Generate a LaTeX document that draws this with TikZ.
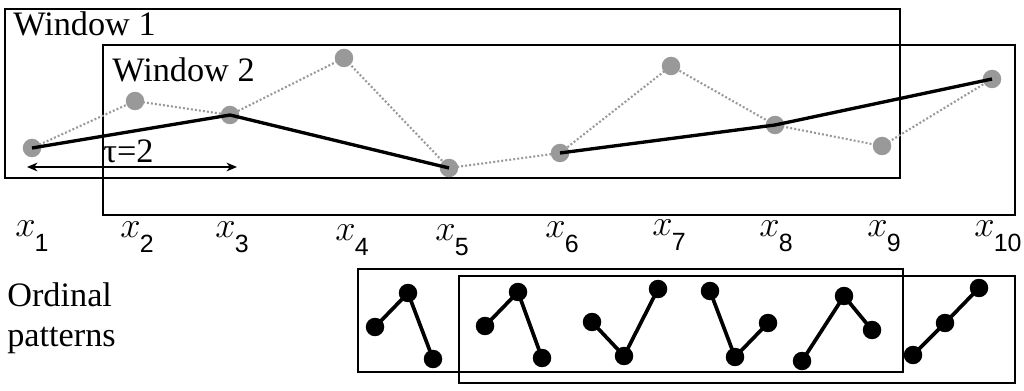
\documentclass[tikz,border=0pt]{standalone}
\usepackage{fontspec}
\setmainfont{Liberation Serif}
\newfontfamily\subsf{Liberation Sans}
\usetikzlibrary{arrows.meta}
\definecolor{ptgray}{RGB}{153,153,153}
\tikzset{
  gdot/.style={circle, fill=ptgray, inner sep=0pt, minimum size=0.37cm},
  bdot/.style={circle, fill=black, inner sep=0pt, minimum size=0.37cm},
  dotline/.style={ptgray, line width=1.2pt, dash pattern=on 1.1pt off 1.2pt},
  blackline/.style={black, line width=1.9pt},
  patline/.style={black, line width=2.1pt},
  winbox/.style={black, line width=1.1pt},
  bigtext/.style={font=\fontsize{19.5}{22.8}\selectfont, inner sep=0pt, anchor=base west},
  xlab/.style={font=\fontsize{20.5}{24}\selectfont, inner sep=0pt, anchor=base west},
  tauarrow/.style={line width=0.85pt, {Stealth[length=6pt,width=5pt]}-{Stealth[length=6pt,width=5pt]}}
}
\newcommand{\xlabel}[1]{$x$\kern-0.5pt\raisebox{-8.5pt}{\fontsize{14.2}{16}\subsf #1}}
\begin{document}
\begin{tikzpicture}[x=0.02cm,y=-0.02cm]
\useasboundingbox (0,0) rectangle (1024,391);
% windows
\draw[winbox] (5,9) rectangle (900,178);
\draw[winbox] (103,45) rectangle (1015,215);
\node[bigtext] (w1) at (13,36) {Window 1};
\node[bigtext] (w2) at (112,82) {Window 2};
% points
\coordinate (p1) at (32,148);
\coordinate (p2) at (135,101);
\coordinate (p3) at (230,115);
\coordinate (p4) at (344,58);
\coordinate (p5) at (449,168);
\coordinate (p6) at (560,153);
\coordinate (p7) at (671,66);
\coordinate (p8) at (775,125);
\coordinate (p9) at (882,146);
\coordinate (p10) at (992,79);
\draw[dotline] (p1) -- (p2) -- (p3) -- (p4) -- (p5) -- (p6) -- (p7) -- (p8) -- (p9) -- (p10);
\node[gdot] (g1) at (p1) {};
\node[gdot] (g2) at (p2) {};
\node[gdot] (g3) at (p3) {};
\node[gdot] (g4) at (p4) {};
\node[gdot] (g5) at (p5) {};
\node[gdot] (g6) at (p6) {};
\node[gdot] (g7) at (p7) {};
\node[gdot] (g8) at (p8) {};
\node[gdot] (g9) at (p9) {};
\node[gdot] (g10) at (p10) {};
\draw[blackline, line join=round] (g1.center) -- (g3.center) -- (g5.center);
\draw[blackline, line join=round] (g6.center) -- (g8.center) -- (g10.center);
% tau arrow
\coordinate (a1) at (27,167);
\coordinate (a2) at (237,167);
\draw[tauarrow] (a1) -- (a2);
\node[bigtext] (tau) at (103,163) {τ=2};
% x labels
\node[xlab] (l1) at (15,237) {\xlabel{1}};
\node[xlab] (l2) at (120,238) {\xlabel{2}};
\node[xlab] (l3) at (215,238) {\xlabel{3}};
\node[xlab] (l4) at (335,241) {\xlabel{4}};
\node[xlab] (l5) at (435,241) {\xlabel{5}};
\node[xlab] (l6) at (545,238) {\xlabel{6}};
\node[xlab] (l7) at (652,236) {\xlabel{7}};
\node[xlab] (l8) at (759,237) {\xlabel{8}};
\node[xlab] (l9) at (867,237) {\xlabel{9}};
\node[xlab] (l10) at (974,237) {\xlabel{10}};
% ordinal patterns
\node[bigtext] (op1) at (7,307) {Ordinal};
\node[bigtext] (op2) at (7,347) {patterns};
\draw[winbox] (358,269) rectangle (903,372);
\draw[winbox] (459,276) rectangle (1015,383);
% pattern 1
\node[bdot] (a11) at (375,327) {};
\node[bdot] (a12) at (408,293) {};
\node[bdot] (a13) at (433,359) {};
\draw[patline] (a11.center) -- (a12.center) -- (a13.center);
% pattern 2
\node[bdot] (a21) at (485,326) {};
\node[bdot] (a22) at (518,292) {};
\node[bdot] (a23) at (542,358) {};
\draw[patline] (a21.center) -- (a22.center) -- (a23.center);
% pattern 3
\node[bdot] (a31) at (592,322) {};
\node[bdot] (a32) at (624,356) {};
\node[bdot] (a33) at (658,289) {};
\draw[patline] (a31.center) -- (a32.center) -- (a33.center);
% pattern 4
\node[bdot] (a41) at (710,291) {};
\node[bdot] (a42) at (735,357) {};
\node[bdot] (a43) at (768,323) {};
\draw[patline] (a41.center) -- (a42.center) -- (a43.center);
% pattern 5
\node[bdot] (a51) at (802,361) {};
\node[bdot] (a52) at (844,296) {};
\node[bdot] (a53) at (872,330) {};
\draw[patline] (a51.center) -- (a52.center) -- (a53.center);
% pattern 6
\node[bdot] (a61) at (913,355) {};
\node[bdot] (a62) at (945,323) {};
\node[bdot] (a63) at (979,288) {};
\draw[patline] (a61.center) -- (a62.center) -- (a63.center);
\end{tikzpicture}
\end{document}
